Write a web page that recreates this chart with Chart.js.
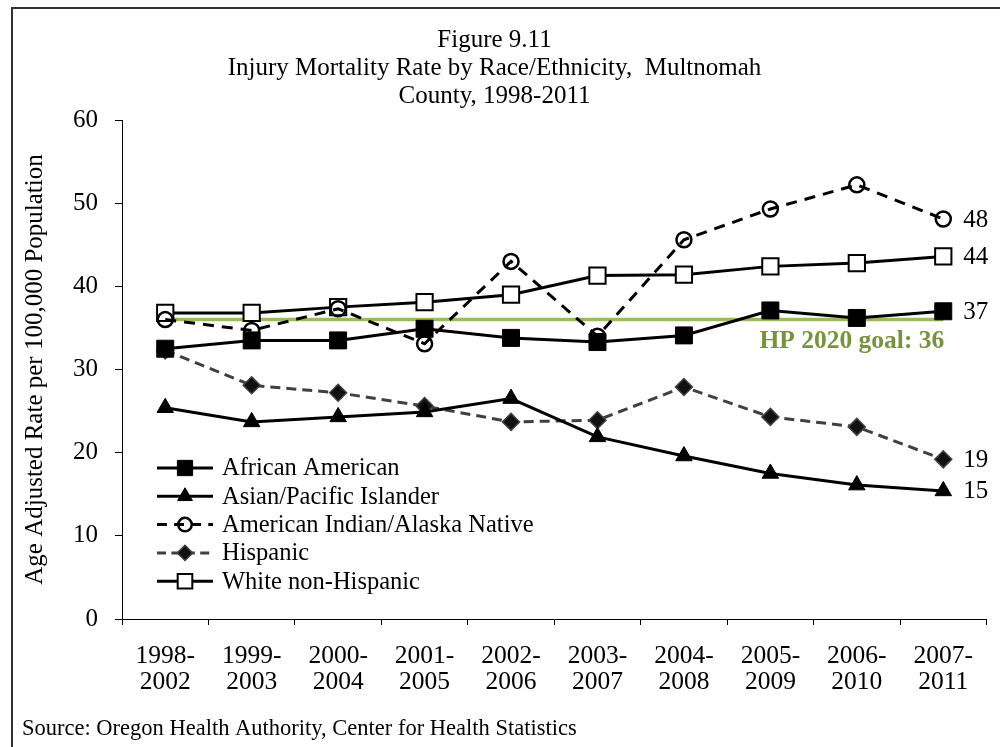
<!DOCTYPE html>
<html>
<head>
<meta charset="utf-8">
<title>Figure 9.11</title>
<script src="https://cdn.jsdelivr.net/npm/chart.js@4.4.0/dist/chart.umd.min.js"></script>
<style>
  html, body { margin: 0; padding: 0; background: #fff; }
  #chart { display: block; }
</style>
</head>
<body>
<canvas id="chart" width="1000" height="747"></canvas>
<script>
// data
var periods = [
  ['1998-', '2002'], ['1999-', '2003'], ['2000-', '2004'], ['2001-', '2005'], ['2002-', '2006'],
  ['2003-', '2007'], ['2004-', '2008'], ['2005-', '2009'], ['2006-', '2010'], ['2007-', '2011']
];
var africanAmerican = [32.5, 33.5, 33.5, 34.9, 33.8, 33.3, 34.1, 37.1, 36.2, 37.0];
var asianPacific = [25.4, 23.7, 24.3, 24.9, 26.5, 21.9, 19.6, 17.5, 16.1, 15.4];
var americanIndian = [36.0, 34.7, 37.3, 33.1, 43.0, 34.0, 45.6, 49.3, 52.2, 48.1];
var hispanic = [32.3, 28.1, 27.2, 25.6, 23.7, 23.9, 27.9, 24.3, 23.1, 19.2];
var whiteNonHispanic = [36.8, 36.8, 37.5, 38.1, 39.0, 41.3, 41.4, 42.4, 42.8, 43.6];
var hpGoal = [36, 36, 36, 36, 36, 36, 36, 36, 36, 36];
var hpGoalText = 'HP 2020 goal: 36';
var yMin = 0, yMax = 60, yStep = 10;

var serif = "'Liberation Serif', 'Times New Roman', serif";

drawFigure();

function drawFigure() {
  var ctx = document.getElementById('chart').getContext('2d');

  var datasets = [
    {
      label: 'African American',
      data: africanAmerican,
      borderColor: '#000', backgroundColor: '#000', borderWidth: 3,
      pointStyle: 'rect', pointRadius: 12, pointBorderWidth: 1,
      pointBackgroundColor: '#000', pointBorderColor: '#000',
      endLabel: true
    },
    {
      label: 'Asian/Pacific Islander',
      data: asianPacific,
      borderColor: '#000', backgroundColor: '#000', borderWidth: 3,
      pointStyle: 'triangle', pointRadius: 9.5, pointBorderWidth: 1,
      pointBackgroundColor: '#000', pointBorderColor: '#000',
      endLabel: true
    },
    {
      label: 'American Indian/Alaska Native',
      data: americanIndian,
      borderColor: '#000', backgroundColor: 'rgba(0,0,0,0)', borderWidth: 3,
      borderDash: [11, 8],
      pointStyle: 'circle', pointRadius: 7.5, pointBorderWidth: 2.5,
      pointBackgroundColor: 'rgba(0,0,0,0)', pointBorderColor: '#000',
      endLabel: true
    },
    {
      label: 'Hispanic',
      data: hispanic,
      borderColor: '#404040', backgroundColor: '#111', borderWidth: 3,
      borderDash: [10, 6],
      pointStyle: 'rectRot', pointRadius: 8.5, pointBorderWidth: 1.5,
      pointBackgroundColor: '#111', pointBorderColor: '#404040',
      endLabel: true
    },
    {
      label: 'White non-Hispanic',
      data: whiteNonHispanic,
      borderColor: '#000', backgroundColor: '#fff', borderWidth: 3,
      pointStyle: 'rect', pointRadius: 11.5, pointBorderWidth: 2,
      pointBackgroundColor: '#fff', pointBorderColor: '#000',
      endLabel: true
    },
    {
      label: 'HP 2020 goal',
      data: hpGoal,
      borderColor: '#9BBB59', borderWidth: 3.5,
      pointRadius: 0, pointHoverRadius: 0,
      isGoal: true
    }
  ];

  var extras = {
    id: 'extras',
    beforeDraw: function(chart) {
      var c = chart.ctx;
      c.save();
      c.fillStyle = '#fff';
      c.fillRect(0, 0, chart.width, chart.height);
      c.strokeStyle = '#333';
      c.lineWidth = 2;
      c.strokeRect(12, 8, chart.width + 20, chart.height + 20);
      c.restore();
    },
    afterDatasetsDraw: function(chart) {
      var c = chart.ctx;
      c.save();

      // value labels next to the last points
      c.font = '25px ' + serif;
      c.fillStyle = '#000';
      c.textAlign = 'left';
      c.textBaseline = 'middle';
      chart.data.datasets.forEach(function(ds, i) {
        var meta = chart.getDatasetMeta(i);
        var last = meta.data[meta.data.length - 1];
        if (ds.endLabel) {
          c.fillText(Math.round(ds.data[ds.data.length - 1]), last.x + 20, last.y + 1);
        }
        if (ds.isGoal) {
          c.save();
          c.font = 'bold 25.5px ' + serif;
          c.fillStyle = '#77933C';
          c.textAlign = 'right';
          c.fillText(hpGoalText, last.x + 1, last.y + 22);
          c.restore();
        }
      });

      // legend inside the plot
      var lx = 157, ly = 468, row = 28.3;
      var n = 0;
      chart.data.datasets.forEach(function(ds) {
        if (ds.isGoal) return;
        var y = ly + n * row;
        c.save();
        c.strokeStyle = ds.borderColor;
        c.lineWidth = ds.borderWidth;
        c.setLineDash(ds.borderDash ? [ds.borderDash[0] * 0.9, ds.borderDash[1] * 0.9] : []);
        c.beginPath();
        c.moveTo(lx, y);
        c.lineTo(lx + 56, y);
        c.stroke();
        c.setLineDash([]);
        c.fillStyle = ds.pointBackgroundColor;
        c.strokeStyle = ds.pointBorderColor;
        c.lineWidth = ds.pointBorderWidth;
        Chart.helpers.drawPoint(c, {
          pointStyle: ds.pointStyle,
          radius: ds.pointRadius * 0.9,
          borderWidth: ds.pointBorderWidth,
          rotation: 0
        }, lx + 28, y);
        c.restore();

        c.font = '24.5px ' + serif;
        c.fillStyle = '#000';
        c.textAlign = 'left';
        c.textBaseline = 'middle';
        c.fillText(ds.label, lx + 65, y + 1);
        n++;
      });

      // source line
      c.font = '22.5px ' + serif;
      c.fillStyle = '#000';
      c.textAlign = 'left';
      c.textBaseline = 'middle';
      c.fillText('Source: Oregon Health Authority, Center for Health Statistics', 22, 729);
      c.restore();
    }
  };

  var chart = new Chart(ctx, {
    type: 'line',
    data: {
      labels: periods,
      datasets: datasets
    },
    options: {
      responsive: false,
      animation: false,
      devicePixelRatio: 1,
      layout: { padding: { left: 0, right: 11, top: 0, bottom: 38 } },
      plugins: {
        legend: { display: false },
        tooltip: { enabled: false },
        title: {
          display: true,
          text: ['Figure 9.11', 'Injury Mortality Rate by Race/Ethnicity,  Multnomah', 'County, 1998-2011'],
          color: '#000',
          font: { family: serif, size: 25, weight: 'normal', lineHeight: 28 / 25 },
          padding: { top: 26, bottom: 10 }
        }
      },
      scales: {
        x: {
          offset: true,
          grid: { drawOnChartArea: false, drawTicks: true, tickLength: 6, color: '#000', offset: true },
          border: { display: true, color: '#000', width: 1 },
          ticks: {
            color: '#000', padding: 18, maxRotation: 0, autoSkip: false,
            font: { family: serif, size: 25.5, lineHeight: 26 / 25.5 }
          },
          afterFit: function(scale) { scale.height = 90; }
        },
        y: {
          min: yMin, max: yMax,
          grid: { drawOnChartArea: false, drawTicks: true, tickLength: 7, color: '#000' },
          border: { display: true, color: '#000', width: 1 },
          ticks: {
            stepSize: yStep, color: '#000', padding: 17,
            font: { family: serif, size: 25 }
          },
          title: {
            display: true,
            text: 'Age Adjusted Rate per 100,000 Population',
            color: '#000',
            font: { family: serif, size: 25 },
            padding: { top: 20, bottom: 0 }
          },
          afterFit: function(scale) { scale.width = 122; }
        }
      }
    },
    plugins: [extras]
  });
}
</script>
</body>
</html>
